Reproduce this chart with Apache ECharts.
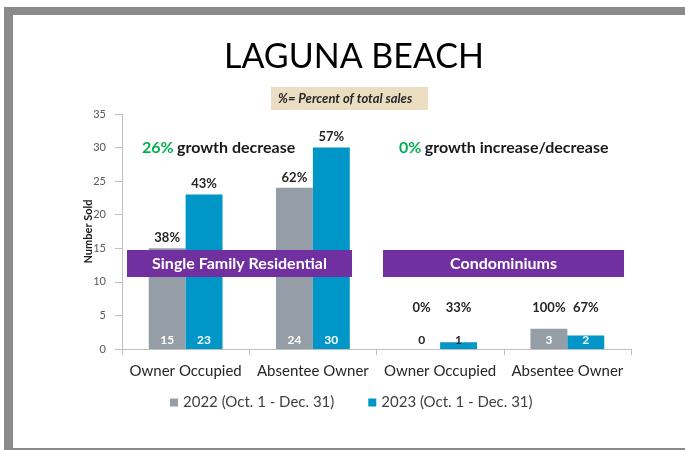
<!DOCTYPE html>
<html>
<head>
<meta charset="utf-8">
<script src="https://cdn.jsdelivr.net/npm/echarts@6/dist/echarts.min.js"></script>
<style>
html,body{margin:0;padding:0;background:#fff;}
#chart{width:685px;height:450px;}
</style>
</head>
<body>
<div id="chart"></div>
<script>
// ---- data ----
const categories = ['Owner Occupied', 'Absentee Owner', 'Owner Occupied', 'Absentee Owner'];
const seriesNames = ['2022 (Oct. 1 - Dec. 31)', '2023 (Oct. 1 - Dec. 31)'];
const values2022 = [15, 24, 0, 3];
const values2023 = [23, 30, 1, 2];
const pct2022 = ['38%', '62%', '0%', '100%'];
const pct2023 = ['43%', '57%', '33%', '67%'];
const yTicks = [0, 5, 10, 15, 20, 25, 30, 35];

// ---- styles ----
const FONT = 'Lato';
const C2022 = '#959EA6';
const C2023 = '#0096C8';
const PURPLE = '#7030A0';
const GREEN = '#00B050';
const AXIS = '#BFBFBF';
const pctFloor = 4.6; // percent labels never sit lower than this level

function mainSeries(name, vals, color, stack) {
  return {
    name: name, type: 'bar', stack: stack,
    barGap: '0%', barCategoryGap: '42%',
    itemStyle: { color: color },
    data: vals.map(v => ({
      value: v,
      label: { color: v < 2 ? '#262626' : '#FFFFFF' }
    })),
    label: {
      show: true, position: 'insideBottom', distance: 3,
      fontFamily: FONT, fontWeight: 'bold', fontSize: 12
    },
    z: 2
  };
}
function pctSeries(vals, pcts, stack) {
  return {
    name: stack + '-pct', type: 'bar', stack: stack,
    barGap: '0%', barCategoryGap: '42%',
    itemStyle: { color: 'rgba(0,0,0,0)' },
    data: vals.map(v => Math.max(0, pctFloor - v)),
    label: {
      show: true, position: 'top', distance: 4,
      fontFamily: FONT, fontWeight: 'bold', fontSize: 13, color: '#262626',
      formatter: p => pcts[p.dataIndex]
    },
    silent: true, z: 2
  };
}

const chart = echarts.init(document.getElementById('chart'), null, { renderer: 'canvas' });
chart.setOption({
  backgroundColor: '#FFFFFF',
  animation: false,
  title: {
    text: 'LAGUNA BEACH', left: 349, textAlign: 'center', top: 35,
    textStyle: { fontFamily: FONT, fontWeight: 'normal', fontSize: 34, color: '#000000' }
  },
  grid: { left: 122, right: 54, top: 114, bottom: 101, containLabel: false },
  legend: {
    data: seriesNames, left: 165, top: 390,
    icon: 'rect', itemWidth: 8, itemHeight: 8, itemGap: 34,
    textStyle: { fontFamily: FONT, fontSize: 15, color: '#404040' }
  },
  xAxis: {
    type: 'category', data: categories,
    axisLine: { lineStyle: { color: AXIS } },
    axisTick: { show: true, length: 6, lineStyle: { color: AXIS } },
    axisLabel: { fontFamily: FONT, fontSize: 15, color: '#262626', margin: 15, interval: 0 }
  },
  yAxis: {
    type: 'value', min: yTicks[0], max: yTicks[yTicks.length - 1], interval: yTicks[1] - yTicks[0],
    name: 'Number Sold', nameLocation: 'middle', nameRotate: 90, nameGap: 28,
    nameMoveOverlap: false,
    nameTextStyle: { fontFamily: FONT, fontWeight: 'bold', fontSize: 11, color: '#1A1A1A' },
    axisLine: { show: true, lineStyle: { color: AXIS } },
    axisTick: { show: true, length: 7, lineStyle: { color: AXIS } },
    splitLine: { show: false },
    axisLabel: { fontFamily: FONT, fontSize: 11, color: '#595959', margin: 16 }
  },
  series: [
    mainSeries(seriesNames[0], values2022, C2022, 'a'),
    pctSeries(values2022, pct2022, 'a'),
    mainSeries(seriesNames[1], values2023, C2023, 'b'),
    pctSeries(values2023, pct2023, 'b')
  ],
  graphic: [
    // slide frame
    { type: 'rect', shape: { x: 4, y: 7, width: 681, height: 8 }, style: { fill: '#8A8A8A' }, z: 100 },
    { type: 'rect', shape: { x: 4, y: 7, width: 9, height: 443 }, style: { fill: '#8A8A8A' }, z: 100 },
    { type: 'rect', shape: { x: 4, y: 448, width: 681, height: 2 }, style: { fill: '#8A8A8A' }, z: 100 },
    // subtitle box
    { type: 'rect', shape: { x: 271, y: 87, width: 157, height: 23 }, style: { fill: '#EBDDC2' }, z: 50 },
    { type: 'text', x: 278, y: 98.5, z: 51,
      style: { text: '%= Percent of total sales', fill: '#262626', font: 'italic bold 13px Lato', textVerticalAlign: 'middle' } },
    // growth notes
    { type: 'text', x: 142, y: 148, z: 51,
      style: { text: '{g|26%} {b|growth decrease}', textVerticalAlign: 'middle',
        rich: { g: { fill: GREEN, fontFamily: FONT, fontWeight: 'bold', fontSize: 16 },
                b: { fill: '#1A1A1A', fontFamily: FONT, fontWeight: 'bold', fontSize: 16 } } } },
    { type: 'text', x: 399, y: 148, z: 51,
      style: { text: '{g|0%} {b|growth increase/decrease}', textVerticalAlign: 'middle',
        rich: { g: { fill: GREEN, fontFamily: FONT, fontWeight: 'bold', fontSize: 16 },
                b: { fill: '#1A1A1A', fontFamily: FONT, fontWeight: 'bold', fontSize: 16 } } } },
    // banners
    { type: 'rect', shape: { x: 127, y: 250, width: 225, height: 27 }, style: { fill: PURPLE }, z: 60 },
    { type: 'text', x: 239.5, y: 263.5, z: 61,
      style: { text: 'Single Family Residential', fill: '#FFFFFF', font: 'bold 16px Lato', textAlign: 'center', textVerticalAlign: 'middle' } },
    { type: 'rect', shape: { x: 383, y: 250, width: 241, height: 27 }, style: { fill: PURPLE }, z: 60 },
    { type: 'text', x: 503.5, y: 263.5, z: 61,
      style: { text: 'Condominiums', fill: '#FFFFFF', font: 'bold 16px Lato', textAlign: 'center', textVerticalAlign: 'middle' } }
  ]
});
</script>
</body>
</html>
